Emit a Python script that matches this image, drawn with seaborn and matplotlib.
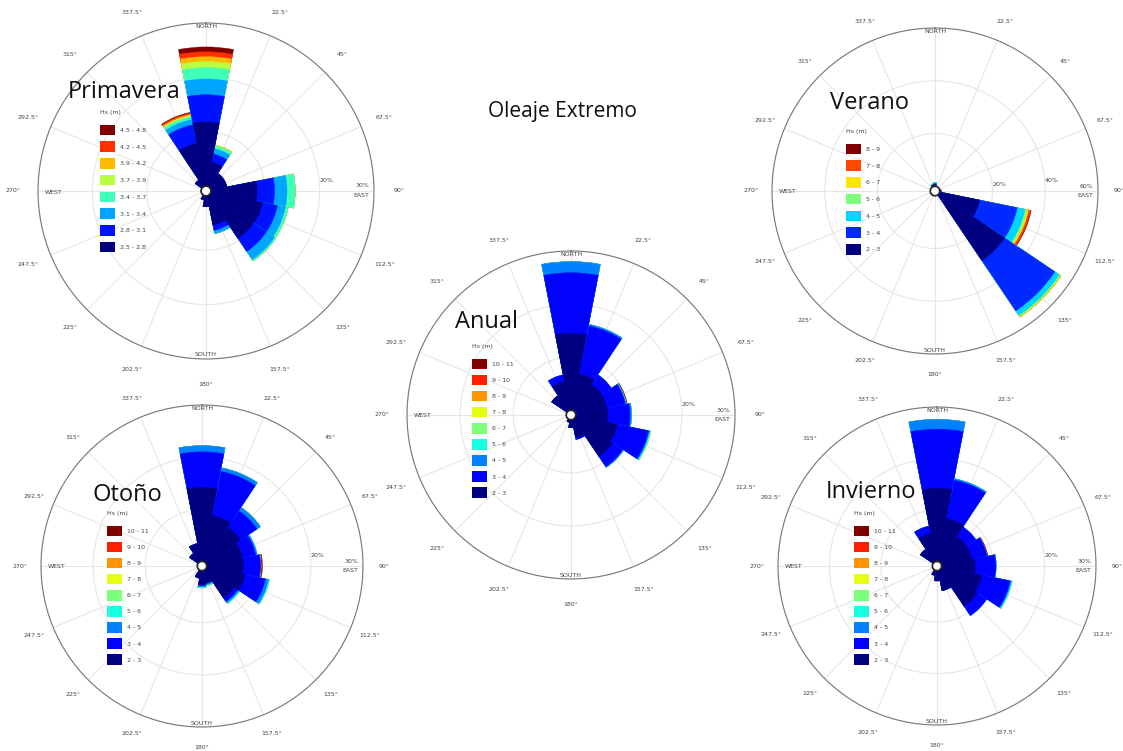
import numpy as np
import pandas as pd
import matplotlib
matplotlib.use("Agg")
import matplotlib.pyplot as plt
import seaborn as sns
from matplotlib.patches import Patch

sns.set_theme(style="white")
plt.rcParams["font.family"] = ["DejaVu Sans"]

W, H = 1123, 751

DIRECTIONS = ["N", "NNE", "NE", "ENE", "E", "ESE", "SE", "SSE",
              "S", "SSW", "SW", "WSW", "W", "WNW", "NW", "NNW"]
DIR_DEG = [0, 22.5, 45, 67.5, 90, 112.5, 135, 157.5,
           180, 202.5, 225, 247.5, 270, 292.5, 315, 337.5]
ANGLE_LABELS = ["", "22.5°", "45°", "67.5°", "90°", "112.5°", "135°", "157.5°",
                "180°", "202.5°", "225°", "247.5°", "270°", "292.5°", "315°", "337.5°"]

# ---- Primavera (frequency % per Hs class, rows = classes low->high, cols = DIRECTIONS)
PRIM_CLASSES = ["2.5 - 2.8", "2.8 - 3.1", "3.1 - 3.4", "3.4 - 3.7",
                "3.7 - 3.9", "3.9 - 4.2", "4.2 - 4.5", "4.5 - 4.8"]
PRIM_FREQ = [
    [11.8, 4.5, 3.0, 3.0, 8.5, 9.7, 9.6, 5.5, 2.0, 0.8, 0, 0, 0, 0, 1.5, 8.0],
    [5.0, 1.5, 0, 0, 3.2, 2.8, 2.9, 1.0, 0, 0, 0, 0, 0, 0, 0, 3.5],
    [2.9, 1.0, 0, 0, 2.3, 1.5, 1.8, 0.6, 0, 0, 0, 0, 0, 0, 0, 1.0],
    [2.1, 0.5, 0, 0, 1.5, 0.5, 0.3, 0, 0, 0, 0, 0, 0, 0, 0, 0.5],
    [1.1, 0.2, 0, 0, 0, 0, 0, 0, 0, 0, 0, 0, 0, 0, 0, 0.25],
    [0.9, 0, 0, 0, 0, 0, 0, 0, 0, 0, 0, 0, 0, 0, 0, 0.2],
    [0.9, 0, 0, 0, 0, 0, 0, 0, 0, 0, 0, 0, 0, 0, 0, 0.25],
    [0.9, 0, 0, 0, 0, 0, 0, 0, 0, 0, 0, 0, 0, 0, 0, 0.15],
]

# ---- Verano
VER_CLASSES = ["2 - 3", "3 - 4", "4 - 5", "5 - 6", "6 - 7", "7 - 8", "8 - 9"]
VER_FREQ = [
    [0.6, 0, 0, 0, 0.5, 15.5, 30.0, 0, 0, 0, 0, 0, 0, 0, 0, 0.6],
    [0.4, 0, 0, 0, 0, 14.5, 23.0, 0, 0, 0, 0, 0, 0, 0, 0, 0],
    [0.5, 0, 0, 0, 0, 3.0, 2.0, 0, 0, 0, 0, 0, 0, 0, 0, 0.4],
    [0, 0, 0, 0, 0, 0.8, 0.5, 0, 0, 0, 0, 0, 0, 0, 0, 0],
    [0, 0, 0, 0, 0, 0.5, 0.3, 0, 0, 0, 0, 0, 0, 0, 0, 0],
    [0, 0, 0, 0, 0, 0.8, 0, 0, 0, 0, 0, 0, 0, 0, 0, 0],
    [0, 0, 0, 0, 0, 0.3, 0, 0, 0, 0, 0, 0, 0, 0, 0, 0],
]

# ---- Anual / Otoño / Invierno share 9 classes
CLASSES_9 = ["2 - 3", "3 - 4", "4 - 5", "5 - 6", "6 - 7",
             "7 - 8", "8 - 9", "9 - 10", "10 - 11"]
ANU_FREQ = [
    [14.5, 7.0, 6.0, 6.0, 6.0, 8.0, 8.5, 3.5, 1.5, 0.5, 0, 0, 0, 0, 3.5, 5.5],
    [11.4, 9.2, 2.2, 3.5, 4.2, 6.0, 2.3, 0.3, 0, 0, 0, 0, 0, 0, 0, 1.3],
    [2.1, 0.3, 0, 0.2, 0.3, 0.2, 0.2, 0, 0, 0, 0, 0, 0, 0, 0, 0],
    [0, 0, 0, 0, 0, 0.15, 0, 0, 0, 0, 0, 0, 0, 0, 0, 0],
    [0, 0, 0, 0, 0, 0.1, 0, 0, 0, 0, 0, 0, 0, 0, 0, 0],
    [0, 0, 0, 0, 0, 0, 0, 0, 0, 0, 0, 0, 0, 0, 0, 0],
    [0, 0, 0, 0, 0, 0, 0, 0, 0, 0, 0, 0, 0, 0, 0, 0],
    [0, 0, 0, 0, 0, 0, 0, 0, 0, 0, 0, 0, 0, 0, 0, 0],
    [0, 0, 0, 0.2, 0, 0, 0, 0, 0, 0, 0, 0, 0, 0, 0, 0],
]
OTO_FREQ = [
    [14.2, 9.0, 8.0, 7.0, 7.0, 7.5, 6.5, 2.5, 2.8, 1.5, 0, 0, 0, 0, 2.0, 3.5],
    [6.8, 8.6, 3.8, 2.6, 3.3, 4.0, 0.8, 0, 0, 0, 0, 0, 0, 0, 0, 0],
    [1.2, 0.7, 0.8, 0.3, 0.1, 0.6, 0.3, 0.3, 0.3, 0, 0, 0, 0, 0, 0, 0],
    [0, 0, 0, 0, 0, 0.2, 0.2, 0.2, 0.2, 0, 0, 0, 0, 0, 0, 0],
    [0, 0, 0, 0, 0, 0, 0, 0, 0, 0, 0, 0, 0, 0, 0, 0],
    [0, 0, 0, 0, 0, 0, 0, 0, 0, 0, 0, 0, 0, 0, 0, 0],
    [0, 0, 0, 0, 0, 0, 0, 0, 0, 0, 0, 0, 0, 0, 0, 0],
    [0, 0, 0, 0, 0.15, 0, 0, 0, 0, 0, 0, 0, 0, 0, 0, 0],
    [0, 0, 0, 0, 0.15, 0, 0, 0, 0, 0, 0, 0, 0, 0, 0, 0],
]
INV_FREQ = [
    [14.2, 8.5, 6.0, 6.0, 6.5, 8.0, 8.5, 4.0, 2.0, 1.0, 0, 0, 0, 0, 3.0, 5.5],
    [11.5, 7.6, 2.2, 3.0, 4.0, 5.6, 2.2, 0, 0, 0, 0, 0, 0, 0, 0, 1.5],
    [1.9, 0.3, 0, 0, 0.1, 0.2, 0, 0, 0, 0, 0, 0, 0, 0, 0, 0],
    [0, 0, 0, 0, 0, 0.2, 0, 0, 0, 0, 0, 0, 0, 0, 0, 0],
    [0, 0, 0, 0, 0, 0, 0, 0, 0, 0, 0, 0, 0, 0, 0, 0],
    [0, 0, 0, 0, 0, 0, 0, 0, 0, 0, 0, 0, 0, 0, 0, 0],
    [0, 0, 0, 0, 0, 0, 0, 0, 0, 0, 0, 0, 0, 0, 0, 0],
    [0, 0, 0, 0, 0, 0, 0, 0, 0, 0, 0, 0, 0, 0, 0, 0],
    [0, 0, 0, 0.2, 0, 0, 0, 0, 0, 0, 0, 0, 0, 0, 0, 0],
]

SEASON_TITLES = ["Primavera", "Verano", "Anual", "Otoño", "Invierno"]
MAIN_TITLE = "Oleaje Extremo"

fig = plt.figure(figsize=(W / 100, H / 100), dpi=100)
fig.patch.set_facecolor("white")

SMALL = 4.5
TXT = "#444444"


def draw_rose(cx, cy, R, freq, classes, rmax, rticks, rlabels, outer_label,
              title, title_xy, legend_xy, row_gap, tick_pad):
    ax = fig.add_axes([(cx - R) / W, 1 - (cy + R) / H, 2 * R / W, 2 * R / H],
                      projection="polar")
    ax.set_theta_zero_location("N")
    ax.set_theta_direction(-1)
    ax.set_facecolor("white")
    ax.set_axisbelow(True)
    n = len(classes)
    colors = matplotlib.colormaps["jet"](np.linspace(0, 1, n))
    theta = np.deg2rad(DIR_DEG)
    cum = np.cumsum(np.array(freq, dtype=float), axis=0)
    for k in range(n - 1, -1, -1):
        df = pd.DataFrame({"theta": theta, "freq": cum[k]})
        sns.barplot(data=df, x="theta", y="freq", native_scale=True, width=0.98,
                    color=colors[k], saturation=1, errorbar=None,
                    linewidth=0, ax=ax, zorder=2)
    for p in ax.patches:
        p.set_edgecolor(p.get_facecolor())
        p.set_linewidth(0.3)
    ax.set_xlabel("")
    ax.set_ylabel("")
    ax.set_xticks(theta)
    ax.set_xticklabels(ANGLE_LABELS, fontsize=SMALL, color=TXT)
    ax.tick_params(axis="x", pad=tick_pad)
    ax.set_ylim(0, rmax)
    ax.set_rorigin(-rmax * 0.03)
    ax.spines["inner"].set_visible(False)
    ax.set_yticks(rticks)
    ax.set_yticklabels(rlabels, fontsize=SMALL, color=TXT)
    ax.set_rlabel_position(86)
    ax.grid(True, color="#e6e6e6", linewidth=0.8)
    ax.spines["polar"].set_color("#777777")
    ax.spines["polar"].set_linewidth(0.8)
    kw = dict(transform=ax.transAxes, fontsize=SMALL, color=TXT)
    ax.text(0.5, 0.99, "NORTH", ha="center", va="center", **kw)
    ax.text(0.5, 0.012, "SOUTH", ha="center", va="center", **kw)
    ax.text(0.02, 0.497, "WEST", ha="left", va="center", **kw)
    ax.text(0.985, 0.515, outer_label, ha="right", va="center", **kw)
    ax.text(0.985, 0.487, "EAST", ha="right", va="center", **kw)

    handles = [Patch(facecolor=colors[k], edgecolor="none", label=classes[k])
               for k in range(n - 1, -1, -1)]
    leg = fig.legend(handles=handles, title="Hs (m)", loc="upper left",
                     bbox_to_anchor=(legend_xy[0] / W, 1 - legend_xy[1] / H),
                     bbox_transform=fig.transFigure, frameon=False,
                     fontsize=SMALL, title_fontsize=SMALL, handlelength=2.4,
                     handleheight=2.2, handletextpad=0.8, labelspacing=row_gap,
                     borderpad=0, borderaxespad=0, alignment="left")
    leg._legend_box.sep = 7
    for t in leg.get_texts():
        t.set_color(TXT)
    leg.get_title().set_color(TXT)

    fig.text(title_xy[0] / W, 1 - title_xy[1] / H, title, ha="left", va="center",
             fontsize=17, color="#111111", family=["Open Sans", "DejaVu Sans"])
    return ax


draw_rose(206, 191, 168, PRIM_FREQ, PRIM_CLASSES, 30, [10, 20, 30], ["", "20%", ""],
          "30%", SEASON_TITLES[0], (68, 92), (100, 110), 1.0, 5)
draw_rose(935, 191, 163, VER_FREQ, VER_CLASSES, 60, [20, 40, 60], ["20%", "40%", ""],
          "60%", SEASON_TITLES[1], (830, 103), (846, 129), 1.0, 2)
draw_rose(571, 415, 164, ANU_FREQ, CLASSES_9, 30, [10, 20, 30], ["", "20%", ""],
          "30%", SEASON_TITLES[2], (455, 322), (472, 344), 0.9, 5)
draw_rose(202, 566, 161, OTO_FREQ, CLASSES_9, 30, [10, 20, 30], ["", "20%", ""],
          "30%", SEASON_TITLES[3], (93, 495), (107, 511), 0.9, 2)
draw_rose(937, 566, 159, INV_FREQ, CLASSES_9, 30, [10, 20, 30], ["", "20%", ""],
          "30%", SEASON_TITLES[4], (826, 492), (854, 511), 0.9, 2)

fig.text(488 / W, 1 - 111 / H, MAIN_TITLE, ha="left", va="center", fontsize=15,
         color="#111111", family=["Open Sans", "DejaVu Sans"])

fig.savefig("out.png", dpi=100, facecolor="white")
